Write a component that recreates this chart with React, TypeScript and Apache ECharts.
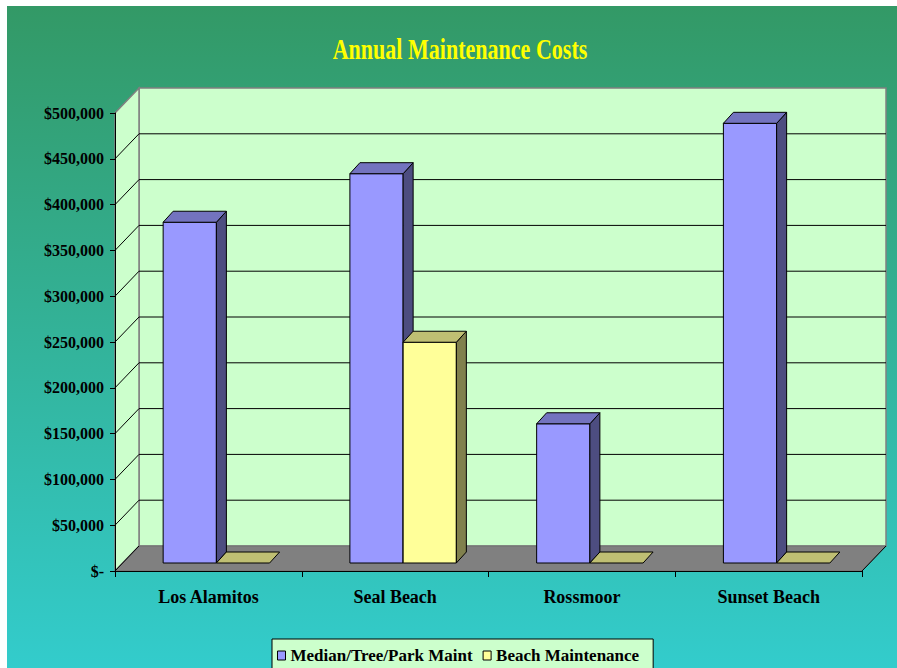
import React, { useEffect, useRef } from "react";
import * as echarts from "echarts";

const categories = ["Los Alamitos", "Seal Beach", "Rossmoor", "Sunset Beach"];
const medianTreePark = [372000, 425000, 152000, 480000];
const beachMaint = [0, 241000, 0, 0];
const yTicks = [0, 50000, 100000, 150000, 200000, 250000, 300000, 350000, 400000, 450000, 500000];
const seriesNames = ["Median/Tree/Park Maint", "Beach Maintenance"];
const titleText = "Annual Maintenance Costs";

const FONT = '"Liberation Serif", "Times New Roman", serif';
const DX = 24;
const DY = -25;
const BAR_OFF = 8;
const BAR_DX = 10;
const BAR_DY = -11;

const palettes = [
  { front: "#9999ff", top: "#7373bf", side: "#4d4d80" },
  { front: "#ffff99", top: "#bfbf73", side: "#80804d" },
];

function barRenderer(sIdx: number) {
  return (params: any, api: any) => {
    const cat = api.value(0);
    const val = api.value(1);
    const bw = api.size([1, 0])[0];
    const base = api.coord([cat, 0]);
    const topPt = api.coord([cat, val]);
    const barW = bw * 0.285;
    const cx = base[0];
    const left = (sIdx === 0 ? cx - barW : cx) + BAR_OFF;
    const bottom = base[1] - BAR_OFF;
    const top = topPt[1] - BAR_OFF;
    const p = palettes[sIdx];
    const stroke = { stroke: "#000", lineWidth: 1 };
    const children: any[] = [];
    if (bottom - top > 0.5) {
      children.push({
        type: "rect",
        shape: { x: left, y: top, width: barW, height: bottom - top },
        style: { fill: p.front, ...stroke },
      });
      children.push({
        type: "polygon",
        shape: {
          points: [
            [left + barW, top],
            [left + barW + BAR_DX, top + BAR_DY],
            [left + barW + BAR_DX, bottom + BAR_DY],
            [left + barW, bottom],
          ],
        },
        style: { fill: p.side, ...stroke },
      });
    }
    children.push({
      type: "polygon",
      shape: {
        points: [
          [left, top],
          [left + barW, top],
          [left + barW + BAR_DX, top + BAR_DY],
          [left + BAR_DX, top + BAR_DY],
        ],
      },
      style: { fill: p.top, ...stroke },
    });
    return { type: "group", children };
  };
}

export default function App() {
  const ref = useRef<HTMLDivElement>(null);
  useEffect(() => {
    if (!ref.current) return;
    const chart = echarts.init(ref.current, undefined, { renderer: "svg" });
    const option: any = {
      animation: false,
      backgroundColor: new echarts.graphic.LinearGradient(0, 0, 0, 1, [
        { offset: 0, color: "#339966" },
        { offset: 1, color: "#33cccc" },
      ]),
      graphic: [
        {
          type: "text",
          x: 453,
          y: 43,
          scaleX: 0.76,
          style: {
            text: titleText,
            font: `bold 29px ${FONT}`,
            fill: "#ffff00",
            align: "center",
            verticalAlign: "middle",
          },
        },
      ],
      legend: {
        left: 265,
        top: 633,
        padding: [8, 14, 8, 5],
        backgroundColor: "#ccffcc",
        borderColor: "#000",
        borderWidth: 1,
        borderRadius: 0,
        itemWidth: 8,
        itemHeight: 9,
        itemGap: 10,
        selectedMode: false,
        textStyle: { fontFamily: FONT, fontWeight: "bold", fontSize: 17, color: "#000" },
        data: [
          { name: seriesNames[0], icon: "rect", itemStyle: { color: palettes[0].front, borderColor: "#000", borderWidth: 1 } },
          { name: seriesNames[1], icon: "rect", itemStyle: { color: palettes[1].front, borderColor: "#000", borderWidth: 1 } },
        ],
      },
      grid: { left: 108, top: 107, width: 747, height: 458, containLabel: false },
      xAxis: {
        type: "category",
        data: categories,
        boundaryGap: true,
        axisLine: { show: true, lineStyle: { color: "#000", width: 1 } },
        axisTick: { show: true, length: 6, lineStyle: { color: "#000" } },
        axisLabel: { margin: 17, fontFamily: FONT, fontWeight: "bold", fontSize: 18, color: "#000" },
        splitLine: { show: false },
        z: 10,
      },
      yAxis: {
        type: "value",
        min: 0,
        max: 500000,
        interval: 50000,
        axisLine: { show: true, lineStyle: { color: "#000", width: 1 } },
        axisTick: { show: true, length: 5, lineStyle: { color: "#000" } },
        splitLine: { show: false },
        axisLabel: {
          margin: 11,
          fontFamily: FONT,
          fontWeight: "bold",
          fontSize: 16,
          color: "#000",
          formatter: (v: number) => (v === 0 ? "$-" : "$" + v.toLocaleString("en-US")),
        },
        z: 10,
      },
      series: [
        {
          type: "custom",
          name: "walls",
          z: 1,
          silent: true,
          data: [[0, 0]],
          renderItem: (params: any) => {
            const cs = params.coordSys;
            const x0 = cs.x, y0 = cs.y, w = cs.width, h = cs.height;
            return {
              type: "group",
              children: [
                {
                  type: "rect",
                  shape: { x: x0 + DX, y: y0 + DY, width: w, height: h },
                  style: { fill: "#ccffcc", stroke: "#808080", lineWidth: 1.5 },
                },
                {
                  type: "polygon",
                  shape: { points: [[x0, y0], [x0 + DX, y0 + DY], [x0 + DX, y0 + h + DY], [x0, y0 + h]] },
                  style: { fill: "#ccffcc", stroke: "#808080", lineWidth: 1.5 },
                },
                {
                  type: "polygon",
                  shape: { points: [[x0, y0 + h], [x0 + w, y0 + h], [x0 + w + DX, y0 + h + DY], [x0 + DX, y0 + h + DY]] },
                  style: { fill: "#808080", stroke: "#6e6e6e", lineWidth: 1 },
                },
                {
                  type: "line",
                  shape: { x1: x0 + w, y1: y0 + h, x2: x0 + w + DX, y2: y0 + h + DY },
                  style: { stroke: "#000", lineWidth: 1 },
                },
              ],
            };
          },
        },
        {
          type: "custom",
          name: "gridlines",
          z: 2,
          silent: true,
          data: yTicks.map((v) => [0, v]),
          renderItem: (params: any, api: any) => {
            const cs = params.coordSys;
            const v = api.value(1);
            const y = api.coord([0, v])[1];
            if (v >= 500000) return { type: "group", children: [] };
            const children: any[] = [
              {
                type: "line",
                shape: { x1: cs.x, y1: y, x2: cs.x + DX, y2: y + DY },
                style: { stroke: "#000", lineWidth: 1 },
              },
            ];
            if (v > 0) {
              children.push({
                type: "line",
                shape: { x1: cs.x + DX, y1: y + DY, x2: cs.x + cs.width + DX, y2: y + DY },
                style: { stroke: "#000", lineWidth: 1 },
              });
            }
            return { type: "group", children };
          },
        },
        {
          type: "custom",
          name: seriesNames[0],
          z: 3,
          itemStyle: { color: palettes[0].front },
          encode: { x: 0, y: 1 },
          data: medianTreePark.map((v, i) => [i, v]),
          renderItem: barRenderer(0),
        },
        {
          type: "custom",
          name: seriesNames[1],
          z: 3,
          itemStyle: { color: palettes[1].front },
          encode: { x: 0, y: 1 },
          data: beachMaint.map((v, i) => [i, v]),
          renderItem: barRenderer(1),
        },
      ],
    };
    chart.setOption(option);
    return () => chart.dispose();
  }, []);
  return (
    <div
      ref={ref}
      style={{ position: "absolute", left: 7, top: 6, width: 890, height: 662 }}
    />
  );
}
